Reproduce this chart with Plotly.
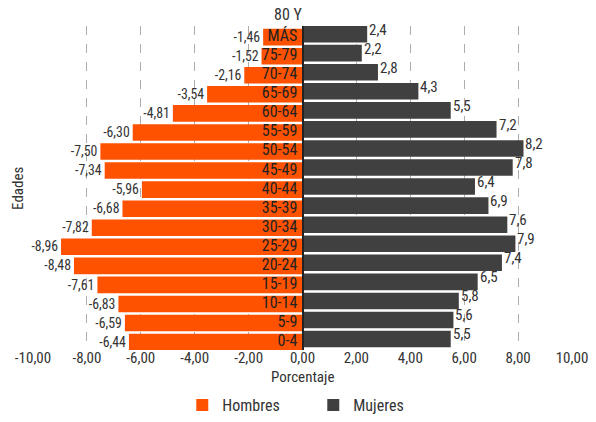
import plotly.graph_objects as go

# Age groups, bottom to top
edades = ["0-4", "5-9", "10-14", "15-19", "20-24", "25-29", "30-34", "35-39",
          "40-44", "45-49", "50-54", "55-59", "60-64", "65-69", "70-74",
          "75-79", "MÁS"]
hombres = [-6.44, -6.59, -6.83, -7.61, -8.48, -8.96, -7.82, -6.68,
           -5.96, -7.34, -7.50, -6.30, -4.81, -3.54, -2.16, -1.52, -1.46]
mujeres = [5.5, 5.6, 5.8, 6.5, 7.4, 7.9, 7.6, 6.9,
           6.4, 7.8, 8.2, 7.2, 5.5, 4.3, 2.8, 2.2, 2.4]
x_ticks = [-10, -8, -6, -4, -2, 0, 2, 4, 6, 8, 10]

FONT = "Roboto Condensed, Roboto, sans-serif"
ORANGE = "#FF5200"
DARK = "#404040"
TXT = "#333333"

def fmt(v, d):
    return f"{v:.{d}f}".replace(".", ",")

fig = go.Figure()
fig.add_trace(go.Bar(
    y=edades, x=hombres, orientation="h", name="Hombres",
    marker=dict(color=ORANGE, line=dict(width=0)),
    width=0.87, offset=-0.52,
    text=[fmt(v, 2) for v in hombres], textposition="outside",
    textfont=dict(size=15, color=TXT, family=FONT), cliponaxis=False,
))
fig.add_trace(go.Bar(
    y=edades, x=mujeres, orientation="h", name="Mujeres",
    marker=dict(color=DARK, line=dict(width=0)),
    width=0.87, offset=-0.36,
))

# Value labels for the women's bars, sitting slightly high
for e, v in zip(edades, mujeres):
    fig.add_annotation(x=v, y=e, text=fmt(v, 1), showarrow=False,
                       xanchor="left", xshift=0, yshift=6,
                       font=dict(size=15, color=TXT, family=FONT))

# Upper line of the top age-group label
fig.add_annotation(x=0, y=edades[-1], text="80 Y", showarrow=False,
                   xanchor="right", xshift=1, yshift=21,
                   font=dict(size=16, color=TXT, family=FONT))

fig.update_layout(
    width=596, height=422,
    margin=dict(l=33, r=24, t=26, b=72),
    paper_bgcolor="white", plot_bgcolor="white",
    barmode="overlay", bargap=0.1,
    font=dict(family=FONT, size=15, color=TXT),
    showlegend=True,
    legend=dict(orientation="h", x=0.52, xanchor="center",
                yref="container", y=0, yanchor="bottom",
                font=dict(size=16, color=TXT, family=FONT),
                entrywidth=86),
    xaxis=dict(
        range=[-10, 10], tickvals=x_ticks,
        ticktext=[fmt(v, 2) for v in x_ticks],
        showgrid=True, gridcolor="#adadad", griddash="dash", gridwidth=1,
        zeroline=False, showline=False, ticks="", automargin=False,
        ticklabelstandoff=-3,
        tickfont=dict(size=15, color=TXT, family=FONT),
    ),
    yaxis=dict(
        type="category", anchor="free", position=0.5,
        showline=True, linecolor="#222222", linewidth=2,
        ticks="", showgrid=False, ticklabelstandoff=1,
        tickmode="array", tickvals=edades, ticktext=edades,
        tickfont=dict(size=16, color="#222222", family=FONT),
        range=[-0.5, len(edades) - 0.5], automargin=False,
    ),
)

# Axis titles
fig.add_annotation(xref="paper", yref="paper", x=0.5, y=0, yanchor="top",
                   yshift=-16, text="Porcentaje", showarrow=False,
                   font=dict(size=15, color=TXT, family=FONT))
fig.add_annotation(xref="paper", yref="paper", x=-0.028, y=0.5,
                   text="Edades", textangle=-90, showarrow=False,
                   xanchor="center", font=dict(size=15, color=TXT, family=FONT))

fig.write_html("out.html")
